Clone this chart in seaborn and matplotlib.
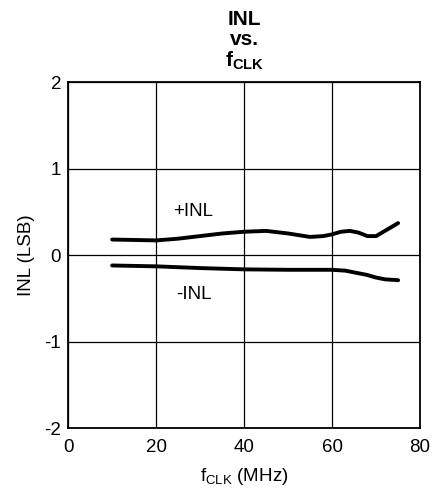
import matplotlib
matplotlib.use("Agg")
import matplotlib.pyplot as plt
import seaborn as sns
import pandas as pd

# dados
freq_pos = [10, 15, 20, 25, 30, 35, 40, 45, 50, 55, 58, 60, 62, 64, 66, 68, 70, 72, 75]
inl_pos = [0.18, 0.175, 0.17, 0.19, 0.22, 0.25, 0.27, 0.28, 0.25, 0.21, 0.22, 0.24, 0.27, 0.28, 0.26, 0.22, 0.22, 0.28, 0.37]
freq_neg = [10, 20, 30, 40, 50, 60, 63, 66, 68, 70, 72, 75]
inl_neg = [-0.12, -0.13, -0.15, -0.165, -0.17, -0.17, -0.18, -0.21, -0.23, -0.26, -0.28, -0.29]

sns.set_style("white")
plt.rcParams['font.family'] = ['Liberation Sans', 'DejaVu Sans']
plt.rcParams['mathtext.fontset'] = 'custom'
plt.rcParams['mathtext.rm'] = 'Liberation Sans'
plt.rcParams['mathtext.bf'] = 'Liberation Sans:bold'
plt.rcParams['text.color'] = 'black'
plt.rcParams['axes.labelcolor'] = 'black'
plt.rcParams['xtick.color'] = 'black'
plt.rcParams['ytick.color'] = 'black'

df_pos = pd.DataFrame({'f': freq_pos, 'inl': inl_pos})
df_neg = pd.DataFrame({'f': freq_neg, 'inl': inl_neg})

fig = plt.figure(figsize=(4.34, 4.92), dpi=100)
ax = fig.add_axes([0.157, 0.130, 0.811, 0.703])

sns.lineplot(x='f', y='inl', data=df_pos, ax=ax, color='black', linewidth=2.8)
sns.lineplot(x='f', y='inl', data=df_neg, ax=ax, color='black', linewidth=2.8)

ax.set_xlim(0, 80)
ax.set_ylim(-2, 2)
ax.set_xticks([0, 20, 40, 60, 80])
ax.set_yticks([-2, -1, 0, 1, 2])
ax.set_yticklabels(['-2', '-1', '0', '1', '2'])
ax.grid(True, color='black', linewidth=0.9)
for s in ax.spines.values():
    s.set_color('black')
    s.set_linewidth(1.3)
ax.tick_params(length=0, labelsize=13.5)
ax.tick_params(axis='x', pad=8)
ax.tick_params(axis='y', pad=5)

ax.text(28.5, 0.5, '+INL', fontsize=13.5, ha='center', va='center')
ax.text(28.5, -0.45, '-INL', fontsize=13.5, ha='center', va='center')

ax.set_xlabel(r'$\mathrm{f_{CLK}}$ (MHz)', fontsize=13.5, labelpad=7)
ax.set_ylabel('INL (LSB)', fontsize=13.5, labelpad=7)
ax.set_title('INL\nvs.\n' + r'$\mathbf{f_{CLK}}$', fontsize=15, fontweight='bold',
             linespacing=1.05, pad=11)

fig.savefig('out.png', dpi=100)
